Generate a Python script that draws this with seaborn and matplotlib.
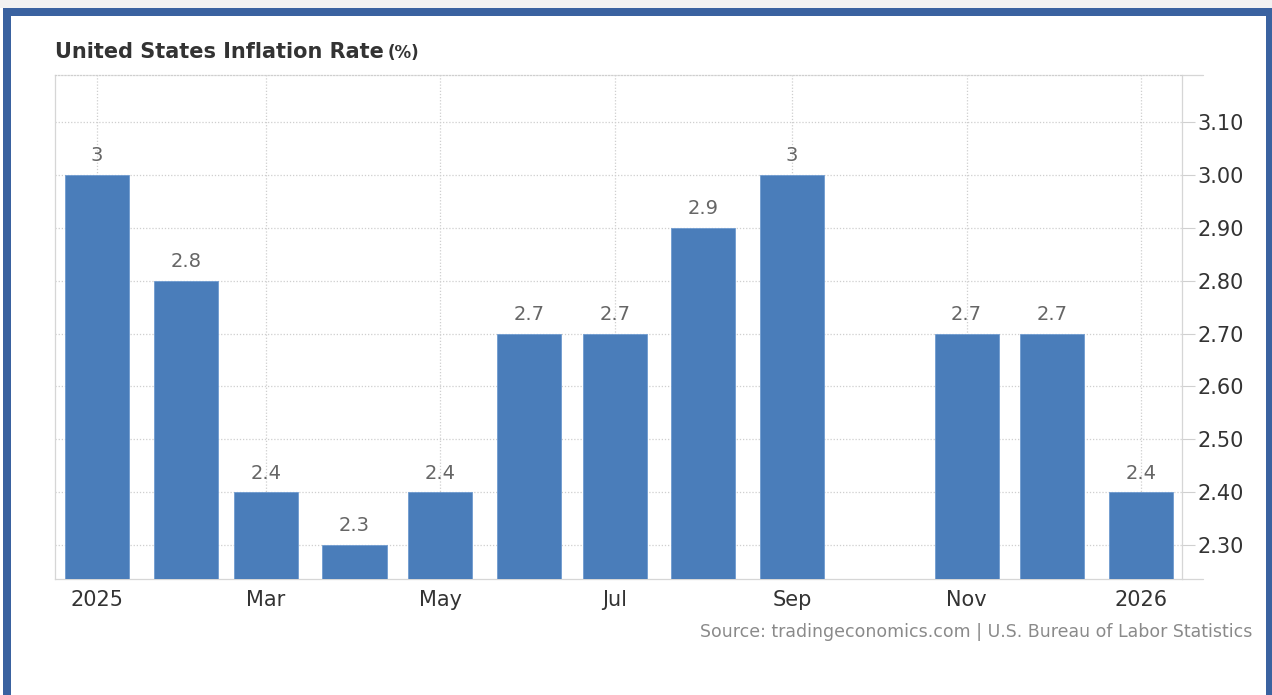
import datetime as dt

import matplotlib.pyplot as plt
import pandas as pd
import seaborn as sns
from matplotlib.patches import Rectangle

# Monthly CPI inflation (% y/y); no October 2025 release
months = ["2025-01", "2025-02", "2025-03", "2025-04", "2025-05", "2025-06",
          "2025-07", "2025-08", "2025-09", "2025-11", "2025-12", "2026-01"]
rates = [3.0, 2.8, 2.4, 2.3, 2.4, 2.7, 2.7, 2.9, 3.0, 2.7, 2.7, 2.4]

tick_months = ["2025-01", "2025-03", "2025-05", "2025-07", "2025-09", "2025-11", "2026-01"]
tick_labels = ["2025", "Mar", "May", "Jul", "Sep", "Nov", "2026"]
y_ticks = [2.30, 2.40, 2.50, 2.60, 2.70, 2.80, 2.90, 3.00, 3.10]

title = "United States Inflation Rate"
unit = "(%)"
source = "Source: tradingeconomics.com | U.S. Bureau of Labor Statistics"

origin = dt.date(2025, 1, 1)


def day_offset(ym):
    y, m = map(int, ym.split("-"))
    return (dt.date(y, m, 1) - origin).days


df = pd.DataFrame({"day": [day_offset(m) for m in months], "rate": rates})

sns.set_theme(style="white")
plt.rcParams["font.family"] = ["DejaVu Sans"]

W, H = 1272, 695
fig = plt.figure(figsize=(W / 100, H / 100), dpi=100, facecolor="white")

# outer frame
frame_blue = "#3a62a0"
fig.patches.append(Rectangle((0, (H - 8) / H), 1, 8 / H, transform=fig.transFigure,
                             facecolor="#f2f2f2", edgecolor="none", zorder=-2))
fig.patches.append(Rectangle((3 / W, (H - 16) / H), 1, 8 / H, transform=fig.transFigure,
                             facecolor=frame_blue, edgecolor="none", zorder=-1))
fig.patches.append(Rectangle((3 / W, 0), 8 / W, (H - 8) / H, transform=fig.transFigure,
                             facecolor=frame_blue, edgecolor="none", zorder=-1))
fig.patches.append(Rectangle((1266 / W, 0), 6 / W, (H - 8) / H, transform=fig.transFigure,
                             facecolor=frame_blue, edgecolor="none", zorder=-1))

ax = fig.add_axes([55 / W, 1 - 579 / H, (1182 - 55) / W, (579 - 75) / H])

sns.barplot(data=df, x="day", y="rate", native_scale=True, width=0.8,
            color="#4a7dba", saturation=1, edgecolor="#6f9bd0", linewidth=0.6,
            ax=ax, zorder=3)

for d, r in zip(df["day"], df["rate"]):
    ax.annotate(f"{r:g}", (d, r), xytext=(0, 7), textcoords="offset points",
                ha="center", va="bottom", fontsize=14, color="#666666", zorder=4)

ax.set_xlim(-14.7, 379.3)
ax.set_ylim(2.236, 3.189)

ax.set_xticks([day_offset(m) for m in tick_months])
ax.set_xticklabels(tick_labels)
ax.set_yticks(y_ticks)
ax.set_yticklabels([f"{v:.2f}" for v in y_ticks])
ax.yaxis.tick_right()
ax.tick_params(axis="x", length=0, pad=8, labelsize=15, labelcolor="#333333")
ax.tick_params(axis="y", length=9, width=0.8, color="#d0d0d0", pad=2,
               labelsize=15, labelcolor="#333333")
ax.set_xlabel("")
ax.set_ylabel("")

ax.grid(True, axis="both", linestyle=(0, (1, 1.5)), linewidth=0.9, color="#cfcfcf", zorder=0)
ax.set_axisbelow(True)

for side in ["left", "right", "bottom"]:
    ax.spines[side].set_visible(True)
    ax.spines[side].set_color("#d6d6d6")
    ax.spines[side].set_linewidth(0.9)
ax.spines["top"].set_visible(True)
ax.spines["top"].set_color("#cfcfcf")
ax.spines["top"].set_linestyle((0, (1, 1.5)))
ax.spines["top"].set_linewidth(0.9)

# short extensions of the top and bottom rules past the value axis
ext = (1203 - 1182) / (1182 - 55)
for yv in (0, 1):
    ax.plot([1, 1 + ext], [yv, yv], transform=ax.transAxes, color="#d6d6d6",
            linewidth=0.9, clip_on=False)

fig.text(55 / W, 1 - 52 / H, title, fontsize=15, fontweight="bold", color="#333333",
         va="center", ha="left")
t = fig.texts[-1]
fig.canvas.draw()
bb = t.get_window_extent()
fig.text(bb.x1 / W + 4 / W, 1 - 53 / H, unit, fontsize=12, fontweight="bold",
         color="#333333", va="center", ha="left")

fig.text(1252 / W, 1 - 632 / H, source, fontsize=12.5, color="#8a8a8a",
         va="center", ha="right")

fig.savefig("out.png", dpi=100, facecolor="white")
